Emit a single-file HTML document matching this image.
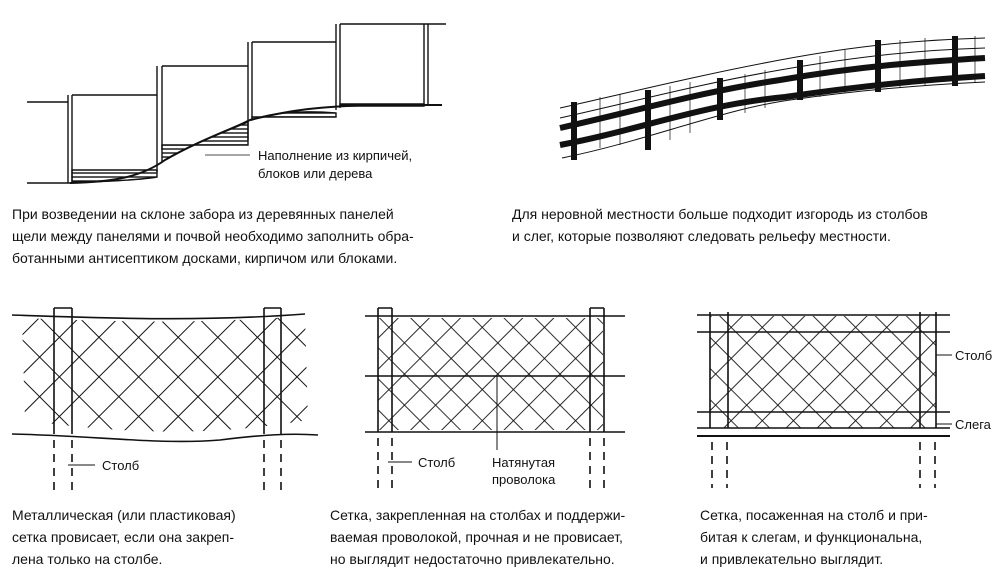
<!DOCTYPE html>
<html><head><meta charset="utf-8"><style>
html,body{margin:0;padding:0;background:#fff;width:1000px;height:567px;overflow:hidden}
svg{display:block}
text{font-family:"Liberation Sans",Arial,sans-serif;fill:#111}
</style></head><body>
<svg width="1000" height="567" viewBox="0 0 1000 567" xmlns="http://www.w3.org/2000/svg">
<defs>
<pattern id="mesh" width="28" height="28" patternUnits="userSpaceOnUse" patternTransform="rotate(45)">
<path d="M0 0H28M0 0V28" stroke="#111" stroke-width="2" fill="none"/>
</pattern>
<pattern id="mesh2" width="22" height="22" patternUnits="userSpaceOnUse" patternTransform="rotate(45)">
<path d="M0 0H22M0 0V22" stroke="#111" stroke-width="1.8" fill="none"/>
</pattern>
<pattern id="hatch" width="8" height="4" patternUnits="userSpaceOnUse">
<path d="M0 1H8" stroke="#111" stroke-width="1.4"/>
</pattern>
</defs>
<g stroke="#111" fill="none" stroke-width="1.4">
<path d="M27 102H68M72 95H157M162 66H248M252 42H336M340 24H446"/>
<path d="M27 183H70"/>
<path d="M68 95V183M72 95V183M157 66V172M162 66V150M248 42V140M252 42V120M336 24V110M340 24V108M424 24V106M428 24V106"/>
<path d="M70 183 C110 182 140 178 165 160 C200 140 230 130 250 120 C290 110 320 106 380 105 L442 105" stroke-width="2"/>
<path d="M72 170H157L157 177 C140 180 100 182 72 182Z" fill="url(#hatch)"/>
<path d="M162 145H248V122 C230 130 200 140 165 160 L162 162Z" fill="url(#hatch)"/>
<path d="M252 117H336V113 C300 110 270 113 252 120Z" fill="url(#hatch)"/>
<path d="M340 104H424V106H340Z" fill="url(#hatch)"/>
<path d="M205 155H250" stroke-width="0.8"/>
</g>
<text x="258" y="160" font-size="13">Наполнение из кирпичей,</text>
<text x="258" y="178" font-size="13">блоков или дерева</text>
<g stroke="#111" fill="none">
<path d="M560 108 C640 90 700 75 780 60 C860 45 920 40 985 38" stroke-width="1"/>
<path d="M560 118 C640 100 700 84 780 70 C860 56 920 50 985 48" stroke-width="1"/>
<path d="M562 158 C650 140 720 110 790 100 C860 90 920 85 985 82" stroke-width="1"/>
<path d="M560 128 C640 110 700 92 780 80 C860 66 920 62 985 58" stroke-width="6"/>
<path d="M560 145 C640 130 700 105 785 97 C860 86 920 80 985 76" stroke-width="6"/>
<path d="M574 102V160M648 90V150M720 78V120M800 60V100M878 40V92M955 36V86" stroke-width="6"/>
<g stroke-width="0.7">
<path d="M600 97V148M620 94V145M670 86V140M690 82V133M745 74V113M765 70V108M820 56V97M845 50V93M900 40V88M925 38V86M975 36V82"/>
</g>
</g>
<text x="12" y="219" font-size="14">При возведении на склоне забора из деревянных панелей</text>
<text x="12" y="241" font-size="14">щели между панелями и почвой необходимо заполнить обра-</text>
<text x="12" y="263" font-size="14">ботанными антисептиком досками, кирпичом или блоками.</text>
<text x="512" y="219" font-size="14">Для неровной местности больше подходит изгородь из столбов</text>
<text x="512" y="241" font-size="14">и слег, которые позволяют следовать рельефу местности.</text>
<g stroke="#111" fill="none" stroke-width="1.6">
<path d="M22 318 C120 322 200 324 305 316 L308 420 C250 430 160 440 25 420Z" fill="url(#mesh)" stroke="none"/>
<path d="M12 315 C100 318 200 322 305 314"/>
<path d="M12 434 C100 436 160 445 220 440 C260 435 290 433 318 435"/>
<path d="M54 308V434M72 308V434M264 308V434M281 308V434M54 308H72M264 308H281"/>
<path d="M54 440V490M72 440V490M264 440V490M281 440V490" stroke-dasharray="8 6"/>
<path d="M68 465H95" stroke-width="1"/>
</g>
<text x="102" y="470" font-size="13">Столб</text>
<g stroke="#111" fill="none" stroke-width="1.6">
<rect x="378" y="318" width="225" height="112" fill="url(#mesh2)" stroke="none"/>
<path d="M365 316H625M365 376H625M365 432H625"/>
<path d="M378 308V432M392 308V432M590 308V432M604 308V432M378 308H392M590 308H604"/>
<path d="M378 438V488M392 438V488M590 438V488M604 438V488" stroke-dasharray="8 6"/>
<path d="M388 462H412M497 376V450" stroke-width="1"/>
</g>
<text x="418" y="467" font-size="13">Столб</text>
<text x="492" y="467" font-size="13">Натянутая</text>
<text x="492" y="484" font-size="13">проволока</text>
<g stroke="#111" fill="none" stroke-width="1.6">
<rect x="710" y="316" width="226" height="112" fill="url(#mesh2)" stroke="none"/>
<path d="M697 315H950M697 332H950M697 412H950M697 428H950"/>
<path d="M710 312V428M728 312V428M920 312V428M936 312V428"/>
<path d="M697 436H950" stroke-width="2"/>
<path d="M712 442V488M727 442V488M920 442V488M935 442V488" stroke-dasharray="8 6"/>
<path d="M936 355H952M936 424H952" stroke-width="1"/>
</g>
<text x="955" y="360" font-size="13">Столб</text>
<text x="955" y="429" font-size="13">Слега</text>
<text x="12" y="520" font-size="14">Металлическая (или пластиковая)</text>
<text x="12" y="542" font-size="14">сетка провисает, если она закреп-</text>
<text x="12" y="564" font-size="14">лена только на столбе.</text>
<text x="330" y="520" font-size="14">Сетка, закрепленная на столбах и поддержи-</text>
<text x="330" y="542" font-size="14">ваемая проволокой, прочная и не провисает,</text>
<text x="330" y="564" font-size="14">но выглядит недостаточно привлекательно.</text>
<text x="700" y="520" font-size="14">Сетка, посаженная на столб и при-</text>
<text x="700" y="542" font-size="14">битая к слегам, и функциональна,</text>
<text x="700" y="564" font-size="14">и привлекательно выглядит.</text>
</svg>
</body></html>
